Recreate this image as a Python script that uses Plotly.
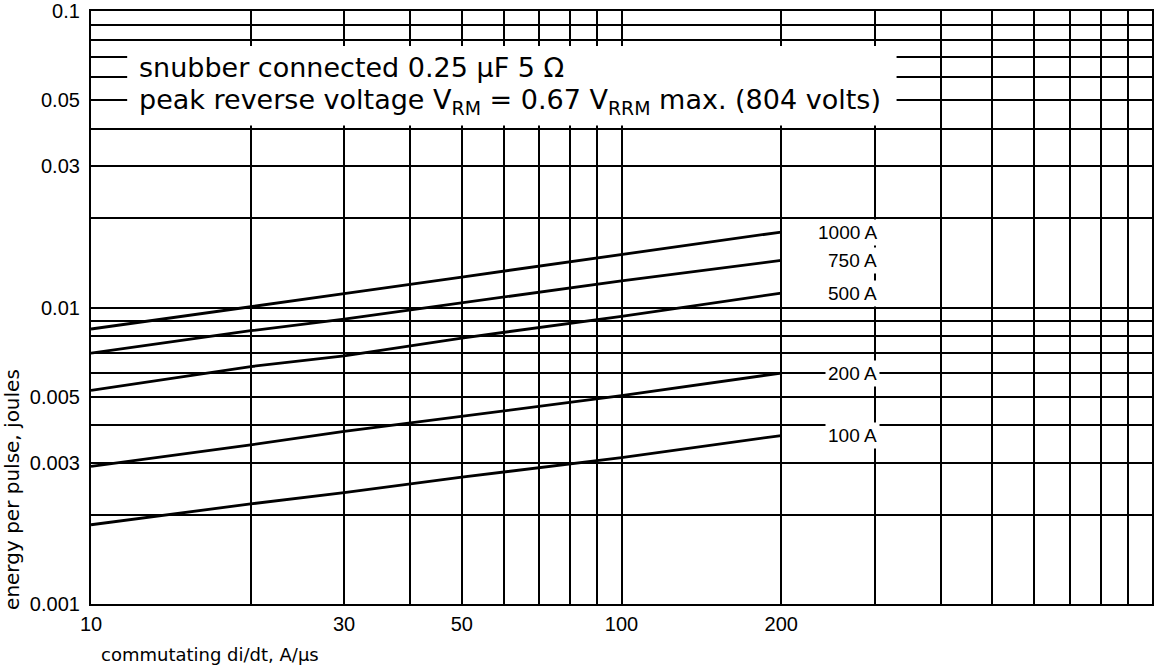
import math
import plotly.graph_objects as go

# ---------------- data ----------------
di_dt = [10, 20, 30, 50, 100, 200]  # A/us

energy_1000A = [0.00846, 0.01003, 0.01113, 0.01267, 0.01507, 0.01797]
energy_750A = [0.00702, 0.00835, 0.00914, 0.01035, 0.01230, 0.01441]
energy_500A = [0.00525, 0.00632, 0.00687, 0.00789, 0.00933, 0.01119]
energy_200A = [0.00291, 0.00344, 0.00382, 0.00429, 0.00504, 0.00601]
energy_100A = [0.00185, 0.002176, 0.002375, 0.002678, 0.003118, 0.00370]

series_names = ["1000 A", "750 A", "500 A", "200 A", "100 A"]
series_values = [energy_1000A, energy_750A, energy_500A, energy_200A, energy_100A]

x_grid_vals = [10, 20, 30, 40, 50, 60, 70, 80, 90,
               100, 200, 300, 400, 500, 600, 700, 800, 900, 1000]
x_tick_labels = {10: "10", 30: "30", 50: "50", 100: "100", 200: "200"}

y_grid_vals = [0.001, 0.002, 0.003, 0.004, 0.005, 0.006, 0.007, 0.008, 0.009,
               0.01, 0.02, 0.03, 0.04, 0.05, 0.06, 0.07, 0.08, 0.09, 0.1]
y_tick_labels = {0.001: "0.001", 0.003: "0.003", 0.005: "0.005", 0.01: "0.01",
                 0.03: "0.03", 0.05: "0.05", 0.1: "0.1"}

note_line1 = "snubber connected 0.25 \u03bcF 5 \u03a9"
note_line2 = ("peak reverse voltage V<sub>RM</sub> = 0.67 V<sub>RRM</sub> "
              "max. (804 volts)")
x_title = "commutating di/dt, A/\u03bcs"
y_title = "energy per pulse, joules"

# ---------------- figure ----------------
TICK_FONT = dict(family="Liberation Sans, Arial, sans-serif", size=20, color="black")
TEXT_FONT = "DejaVu Sans, sans-serif"

fig = go.Figure()
for name, vals in zip(series_names, series_values):
    fig.add_trace(go.Scatter(x=di_dt, y=vals, mode="lines", name=name,
                             line=dict(color="black", width=2.8),
                             showlegend=False, hoverinfo="skip"))

# curve labels, placed level with each curve's end value
label_x = 307
for name, vals in zip(series_names, series_values):
    fig.add_annotation(x=math.log10(label_x), y=math.log10(vals[-1]),
                       xref="x", yref="y", text=name, showarrow=False,
                       xanchor="right", yanchor="middle",
                       font=dict(family="Liberation Sans, Arial, sans-serif",
                                 size=19, color="black"),
                       bgcolor="white", borderpad=2)

# white panel for the note text
fig.add_shape(type="rect", xref="x", yref="y", x0=11.7, x1=330, y0=0.0411, y1=0.0762,
              fillcolor="white", line=dict(width=0), layer="above")

fig.add_annotation(x=math.log10(12.2), y=math.log10(0.0645), xref="x", yref="y",
                   text=note_line1, showarrow=False, xanchor="left", yanchor="middle",
                   font=dict(family=TEXT_FONT, size=27, color="black"))
fig.add_annotation(x=math.log10(12.2), y=math.log10(0.0495), xref="x", yref="y",
                   text=note_line2, showarrow=False, xanchor="left", yanchor="middle",
                   font=dict(family=TEXT_FONT, size=27, color="black"))

# axis titles
fig.add_annotation(x=0, y=-0.086, xref="x domain", yref="paper", text=x_title,
                   showarrow=False, xanchor="left", yanchor="middle", xshift=8,
                   font=dict(family=TEXT_FONT, size=18, color="black"))
fig.add_annotation(x=-0.0745, y=0.194, xref="paper", yref="paper", text=y_title,
                   textangle=-90, showarrow=False, xanchor="center", yanchor="middle",
                   font=dict(family=TEXT_FONT, size=20, color="black"))

fig.update_xaxes(type="log", range=[1, 3],
                 tickvals=x_grid_vals,
                 ticktext=[x_tick_labels.get(v, "") for v in x_grid_vals],
                 showgrid=True, gridcolor="black", gridwidth=1.6,
                 showline=True, linecolor="black", linewidth=2.2, mirror=True,
                 ticks="", tickfont=TICK_FONT, ticklabelstandoff=1,
                 zeroline=False, automargin=False)
fig.update_yaxes(type="log", range=[-3, -1],
                 tickvals=y_grid_vals,
                 ticktext=[y_tick_labels.get(v, "") for v in y_grid_vals],
                 showgrid=True, gridcolor="black", gridwidth=1.6,
                 showline=True, linecolor="black", linewidth=2.2, mirror=True,
                 ticks="", tickfont=TICK_FONT, ticklabelstandoff=5,
                 zeroline=False, automargin=False)

fig.update_layout(width=1162, height=666,
                  margin=dict(l=91, r=10, t=11, b=62, autoexpand=False),
                  paper_bgcolor="white", plot_bgcolor="white",
                  showlegend=False)

fig.write_html("out.html",
               config={"displayModeBar": False},
               post_script="document.body.style.margin='0';"
                           "document.body.style.overflow='hidden';")
